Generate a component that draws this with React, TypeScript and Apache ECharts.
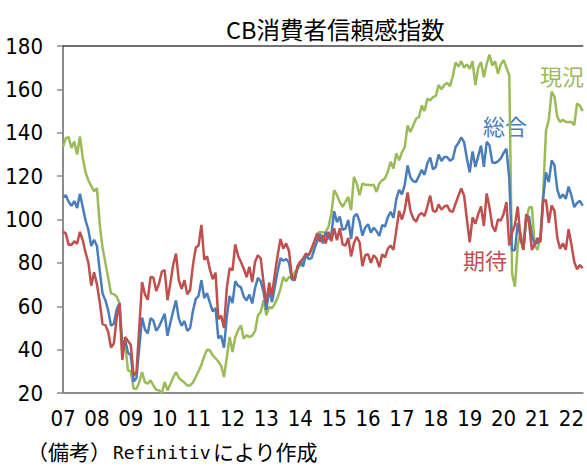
import React, { useEffect, useRef } from "react";
import * as echarts from "echarts";

// Year tick labels (Jan of each year)
const yearLabels = ["07", "08", "09", "10", "11", "12", "13", "14", "15", "16", "17", "18", "19", "20", "21", "22"];
const firstYear = 2007;
const monthCount = 185; // Jan 2007 .. May 2022

// 総合 (Consumer Confidence Index)
const total = [
  110.2, 111.2, 108.2, 106.3, 108.5, 105.3, 111.9, 105.6, 99.5, 95.2, 87.8, 90.6,
  87.9, 76.4, 65.9, 62.8, 58.1, 51.0, 51.9, 58.5, 61.4, 38.8, 44.7, 38.6,
  37.4, 25.3, 26.9, 40.8, 54.8, 49.3, 47.4, 54.5, 53.4, 48.7, 50.6, 53.6,
  56.5, 46.4, 52.3, 57.7, 62.7, 54.3, 51.0, 53.2, 48.6, 49.9, 57.8, 63.4,
  64.8, 72.0, 63.8, 66.0, 61.7, 57.6, 59.2, 45.2, 46.4, 40.9, 55.2, 64.8,
  61.5, 71.6, 69.5, 68.7, 64.4, 62.7, 65.4, 61.3, 68.4, 73.1, 71.5, 66.7,
  58.4, 68.0, 61.9, 69.0, 76.2, 82.1, 81.0, 81.8, 80.2, 72.4, 72.0, 77.5,
  80.7, 78.3, 83.9, 81.7, 82.2, 86.4, 90.3, 93.4, 89.0, 94.1, 91.0, 93.1,
  103.8, 98.8, 101.4, 95.2, 95.8, 99.8, 91.0, 101.3, 102.6, 99.1, 92.6, 96.3,
  97.8, 94.0, 96.1, 94.7, 92.4, 97.4, 96.7, 101.1, 103.5, 100.8, 109.4, 113.7,
  111.6, 116.1, 124.9, 119.4, 117.6, 117.3, 120.0, 122.9, 120.6, 125.9, 128.6, 123.1,
  124.3, 130.0, 127.0, 128.8, 128.8, 127.1, 127.9, 133.4, 135.3, 137.9, 135.7, 128.1,
  121.7, 131.4, 124.2, 129.2, 134.1, 124.3, 135.8, 134.2, 126.3, 126.1, 126.8, 128.2,
  130.7, 132.6, 118.8, 85.7, 85.9, 98.3, 91.7, 86.3, 101.3, 101.4, 92.9, 88.6,
  89.3, 90.4, 109.7, 121.7, 117.2, 127.3, 125.1, 113.8, 109.8, 111.6, 109.5, 115.2,
  111.1, 105.7, 107.6, 108.6, 106.4,
];

// 現況 (Present Situation Index)
const present = [
  133.5, 137.5, 138.0, 133.0, 136.0, 130.0, 138.3, 128.4, 121.7, 118.0, 115.5, 113.0,
  114.5, 98.0, 87.0, 80.0, 73.0, 66.0, 65.5, 64.5, 61.5, 44.3, 43.0, 30.5,
  30.0, 22.0, 22.0, 25.0, 29.7, 25.0, 24.3, 25.8, 23.5, 21.5, 21.2, 20.0,
  25.0, 21.2, 24.0, 27.0, 29.7, 27.0, 25.8, 24.8, 23.5, 23.5, 24.8, 27.4,
  30.0, 33.0, 37.0, 40.0, 39.7, 37.4, 36.0, 34.5, 32.5, 27.4, 36.6, 45.8,
  38.9, 45.8, 49.0, 51.2, 45.0, 46.6, 45.8, 46.5, 48.5, 55.8, 57.4, 62.8,
  55.8, 59.7, 59.0, 61.2, 64.0, 68.0, 73.5, 71.5, 73.5, 73.0, 75.5, 77.0,
  79.0, 81.0, 82.5, 83.5, 86.0, 89.7, 93.5, 94.3, 94.0, 94.3, 96.6, 102.8,
  113.5, 111.2, 108.0, 105.8, 108.1, 110.4, 104.3, 119.7, 116.6, 111.2, 116.6, 116.0,
  116.0, 115.8, 116.0, 112.7, 116.6, 118.0, 119.0, 122.0, 126.6, 123.5, 130.4, 127.3,
  131.0, 133.4, 143.4, 140.3, 143.4, 146.5, 147.2, 152.6, 150.0, 155.7, 154.9, 156.4,
  157.0, 162.0, 160.0, 162.0, 163.0, 161.5, 166.0, 172.4, 170.5, 173.0, 170.0, 171.5,
  169.5, 173.0, 162.0, 170.0, 172.6, 165.6, 171.8, 176.0, 171.0, 173.0, 167.2, 171.5,
  173.5, 170.0, 166.5, 75.0, 69.0, 88.0, 94.0, 86.0, 99.5, 105.5, 105.8, 88.0,
  86.0, 92.0, 112.0, 141.0, 146.0, 159.0, 156.6, 147.3, 145.0, 146.0, 145.0, 145.0,
  145.0, 143.5, 153.5, 152.5, 150.0,
];

// 期待 (Expectations Index)
const expectation = [
  94.5, 93.5, 88.3, 88.3, 90.0, 88.8, 94.3, 90.4, 84.7, 80.0, 69.5, 75.7,
  70.2, 62.0, 51.8, 51.3, 48.2, 41.0, 42.8, 54.5, 61.3, 35.3, 45.8, 44.0,
  42.3, 28.0, 29.5, 50.0, 71.2, 65.5, 63.0, 73.5, 73.3, 67.0, 70.5, 76.0,
  76.6, 62.8, 70.5, 79.0, 84.3, 72.0, 68.0, 72.0, 65.5, 67.5, 79.0, 87.0,
  88.0, 97.5, 81.5, 83.0, 77.0, 72.5, 75.5, 54.0, 55.7, 50.0, 68.5, 77.5,
  76.6, 88.5, 83.2, 80.4, 77.3, 73.4, 78.2, 71.2, 80.5, 83.5, 82.0, 71.0,
  61.0, 71.0, 65.0, 75.0, 83.5, 91.0, 86.6, 89.0, 85.5, 74.0, 72.0, 78.5,
  80.5, 82.0, 84.3, 83.5, 86.6, 90.0, 93.5, 89.7, 92.8, 89.0, 94.3, 90.0,
  96.0, 90.5, 96.0, 88.5, 88.0, 91.5, 83.0, 89.0, 92.0, 89.5, 78.5, 83.5,
  84.0, 80.0, 83.5, 82.0, 78.0, 84.0, 82.5, 86.5, 88.0, 86.0, 95.0, 104.0,
  100.0, 104.5, 112.5, 104.0, 100.5, 99.0, 102.0, 103.0, 101.5, 106.0, 111.0, 104.0,
  103.5, 107.0, 104.5, 106.0, 106.5, 104.0, 103.5, 107.4, 111.0, 114.3, 111.0, 100.0,
  89.5, 101.0, 98.0, 102.5, 106.0, 97.0, 112.0, 105.5, 97.0, 94.5, 100.0, 99.5,
  102.5, 108.0, 88.0, 94.0, 97.5, 106.0, 91.0, 86.0, 102.5, 98.5, 86.0, 88.5,
  91.5, 89.5, 108.5, 109.0, 98.5, 106.5, 104.0, 91.5, 86.5, 89.0, 86.0, 95.5,
  88.5, 80.5, 77.0, 79.0, 77.5,
];

const months: string[] = [];
for (let i = 0; i < monthCount; i++) {
  const y = firstYear + Math.floor(i / 12);
  const m = (i % 12) + 1;
  months.push(`${y}-${m < 10 ? "0" + m : m}`);
}

const GREEN = "#9BBB59";
const BLUE = "#4A7EBB";
const RED = "#C0504D";
const NUM_FONT = "'DejaVu Sans Condensed', 'Liberation Sans Narrow', sans-serif";
const JP_FONT = "'Noto Sans CJK JP', 'Noto Sans', sans-serif";
const MONO_FONT = "'DejaVu Sans Mono', 'Liberation Mono', monospace";

export default function App() {
  const ref = useRef<HTMLDivElement>(null);
  useEffect(() => {
    document.body.style.margin = "0";
    if (!ref.current) return;
    const chart = echarts.init(ref.current, undefined, { renderer: "svg" });
    chart.setOption({
      animation: false,
      backgroundColor: "#ffffff",
      title: {
        text: "CB消費者信頼感指数",
        left: 221,
        top: 12,
        textStyle: { fontFamily: JP_FONT, fontSize: 23.5, fontWeight: "normal", color: "#000" },
      },
      grid: { left: 63, right: 0, top: 46, bottom: 73 },
      xAxis: [
        {
          type: "category",
          data: months,
          boundaryGap: false,
          axisLine: { show: true, lineStyle: { color: "#8c8c8c", width: 2 } },
          axisTick: { show: false },
          splitLine: { show: false },
          axisLabel: {
            interval: (i: number) => i % 12 === 0,
            formatter: (_v: string, i: number) => yearLabels[Math.floor(i / 12)],
            fontFamily: NUM_FONT,
            fontSize: 22,
            color: "#000",
            margin: 14,
          },
        },
        {
          type: "category",
          data: months,
          boundaryGap: false,
          position: "top",
          axisLine: { show: true, lineStyle: { color: "#404040", width: 1.5 } },
          axisTick: { show: false },
          axisLabel: { show: false },
          splitLine: { show: false },
        },
      ],
      yAxis: {
        type: "value",
        min: 20,
        max: 180,
        interval: 20,
        axisLine: { show: true, lineStyle: { color: "#8c8c8c", width: 2 } },
        axisTick: { show: true, length: 6, lineStyle: { color: "#8c8c8c", width: 1.5 } },
        splitLine: { show: false },
        axisLabel: { fontFamily: NUM_FONT, fontSize: 22, color: "#000", margin: 20 },
      },
      series: [
        {
          name: "現況",
          type: "line",
          data: present,
          showSymbol: false,
          lineStyle: { color: GREEN, width: 2.5 },
          itemStyle: { color: GREEN },
          z: 2,
        },
        {
          name: "総合",
          type: "line",
          data: total,
          showSymbol: false,
          lineStyle: { color: BLUE, width: 2.5 },
          itemStyle: { color: BLUE },
          z: 3,
        },
        {
          name: "期待",
          type: "line",
          data: expectation,
          showSymbol: false,
          lineStyle: { color: RED, width: 2.5 },
          itemStyle: { color: RED },
          z: 4,
        },
      ],
      graphic: [
        {
          type: "text",
          left: 540,
          top: 64,
          style: { text: "現況", fill: GREEN, font: `22px ${JP_FONT}` },
        },
        {
          type: "text",
          left: 483,
          top: 114,
          style: { text: "総合", fill: BLUE, font: `22px ${JP_FONT}` },
        },
        {
          type: "text",
          left: 463,
          top: 248,
          style: { text: "期待", fill: RED, font: `22px ${JP_FONT}` },
        },
        {
          type: "text",
          x: 27,
          y: 451,
          style: { text: "（備考）", fill: "#000", font: `21px ${JP_FONT}`, verticalAlign: "middle", lineHeight: 22 },
        },
        {
          type: "text",
          x: 113,
          y: 452,
          style: { text: "Refinitiv", fill: "#000", font: `18px ${MONO_FONT}`, verticalAlign: "middle", lineHeight: 20 },
        },
        {
          type: "text",
          x: 213,
          y: 451,
          style: { text: "により作成", fill: "#000", font: `21px ${JP_FONT}`, verticalAlign: "middle", lineHeight: 22 },
        },
      ],
    });
    return () => chart.dispose();
  }, []);
  return <div ref={ref} style={{ width: 587, height: 466 }} />;
}
